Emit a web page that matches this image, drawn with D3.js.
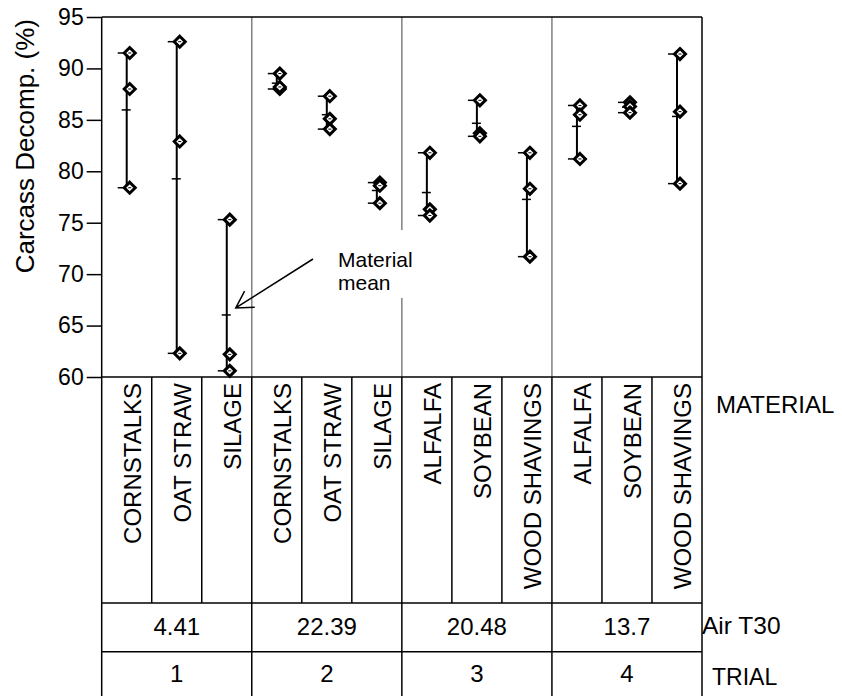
<!DOCTYPE html>
<html>
<head>
<meta charset="utf-8">
<script src="https://cdn.jsdelivr.net/npm/d3@7"></script>
<style>
body{margin:0;background:#fff;}
text{font-family:"Liberation Sans",Arial,sans-serif;fill:#000;}
</style>
</head>
<body>
<div class="main"></div>
<script>
// materials, one column each, grouped by trial
var materials=['CORNSTALKS','OAT STRAW','SILAGE','CORNSTALKS','OAT STRAW','SILAGE',
               'ALFALFA','SOYBEAN','WOOD SHAVINGS','ALFALFA','SOYBEAN','WOOD SHAVINGS'];
var trialOf=['1','1','1','2','2','2','3','3','3','4','4','4'];
var trials=['1','2','3','4'];
var airT30=['4.41','22.39','20.48','13.7'];

// carcass decomposition (%), three replicates per material
var rep1=[91.5,92.6,75.3,89.5,87.3,78.9,81.8,86.9,81.8,86.4,86.7,91.4];
var rep2=[88.0,82.9,62.2,88.0,85.1,78.6,76.3,83.7,78.3,85.5,86.3,85.8];
var rep3=[78.4,62.3,60.6,88.2,84.1,76.9,75.7,83.4,71.7,81.2,85.7,78.8];

var yTicks=[60,65,70,75,80,85,90,95];

var W=842,H=696;
var plot={left:101.7,right:702,top:17,bottom:377};
var rowMat=603, rowAir=651.7;
var fs=24;

var svg=d3.select('.main').append('svg')
    .attr('width',W)
    .attr('height',H);

var x=d3.scaleBand().domain(d3.range(materials.length)).range([plot.left,plot.right]);
var xt=d3.scaleBand().domain(trials).range([plot.left,plot.right]);
var y=d3.scaleLinear().domain([60,95]).range([plot.bottom,plot.top]);

var data=materials.map(function(m,i){
  var v=[rep1[i],rep2[i],rep3[i]];
  return {i:i,name:m,vals:v,min:d3.min(v),max:d3.max(v),mean:d3.mean(v)};
});
function cx(i){return x(i)+x.bandwidth()/2;}

// trial dividers inside the plot
svg.selectAll('.divider')
  .data(trials.slice(1))
  .enter().append('line')
  .attr('class','divider')
  .attr('x1',function(d){return xt(d);})
  .attr('x2',function(d){return xt(d);})
  .attr('y1',plot.top).attr('y2',plot.bottom)
  .style('stroke','#808080').style('stroke-width',1.5);

// annotation text box (covers the divider behind it)
svg.append('rect')
  .attr('x',330).attr('y',230).attr('width',86).attr('height',68)
  .style('fill','#fff');
svg.append('text').attr('x',338).attr('y',266.5).style('font-size','21px').text('Material');
svg.append('text').attr('x',338).attr('y',290).style('font-size','21px').text('mean');

// arrow to silage (trial 1) mean
var tipX=cx(2)+9, tipY=y(data[2].mean)-7;
var tailX=313, tailY=259;
var ang=Math.atan2(tailY-tipY,tailX-tipX), L=19, spread=Math.PI/6;
svg.append('path')
  .attr('d','M'+tailX+','+tailY+'L'+tipX+','+tipY+
     'M'+(tipX+L*Math.cos(ang-spread))+','+(tipY+L*Math.sin(ang-spread))+'L'+tipX+','+tipY+
     'L'+(tipX+L*Math.cos(ang+spread))+','+(tipY+L*Math.sin(ang+spread)))
  .style('fill','none').style('stroke','#000').style('stroke-width',1.5);

// table and frame lines
var lines=[];
lines.push([plot.left,plot.top,plot.right,plot.top]);
lines.push([plot.right,plot.top,plot.right,H]);
lines.push([plot.left,plot.top,plot.left,H]);
lines.push([plot.left,plot.bottom,plot.right,plot.bottom]);
lines.push([plot.left,rowMat,plot.right,rowMat]);
lines.push([plot.left,rowAir,plot.right,rowAir]);
trials.slice(1).forEach(function(t){lines.push([xt(t),plot.bottom,xt(t),H]);});
d3.range(1,materials.length).forEach(function(i){
  if(i%3!==0) lines.push([x(i),plot.bottom,x(i),rowMat]);
});
svg.selectAll('.grid')
  .data(lines)
  .enter().append('line')
  .attr('class','grid')
  .attr('x1',function(d){return d[0];}).attr('y1',function(d){return d[1];})
  .attr('x2',function(d){return d[2];}).attr('y2',function(d){return d[3];})
  .style('stroke','#000').style('stroke-width',1.5);

// y axis
var yAxis=d3.axisLeft(y).tickValues(yTicks).tickSize(15).tickSizeOuter(0).tickPadding(3);
var yAxisGroup=svg.append('g')
  .attr('transform','translate('+plot.left+',0)')
  .call(yAxis);
yAxisGroup.select('.domain').remove();
yAxisGroup.selectAll('line').style('stroke','#000').style('stroke-width',1.5);
yAxisGroup.selectAll('text')
  .style('font-size','23px')
  .style('font-family','"Liberation Sans",Arial,sans-serif')
  .style('fill','#000');

svg.append('text')
  .attr('transform','translate(34,19) rotate(-90)')
  .style('text-anchor','end')
  .style('font-size','26px')
  .text('Carcass Decomp. (%)');

// range lines, caps, means, diamonds
var g=svg.selectAll('.mat')
  .data(data)
  .enter().append('g')
  .attr('class','mat');

g.append('line')
  .attr('x1',function(d){return cx(d.i);}).attr('x2',function(d){return cx(d.i);})
  .attr('y1',function(d){return y(d.max);}).attr('y2',function(d){return y(d.min);})
  .style('stroke','#000').style('stroke-width',2);

g.selectAll('.cap')
  .data(function(d){return [{i:d.i,v:d.max},{i:d.i,v:d.min}];})
  .enter().append('line')
  .attr('class','cap')
  .attr('x1',function(d){return cx(d.i)-9;}).attr('x2',function(d){return cx(d.i);})
  .attr('y1',function(d){return y(d.v);}).attr('y2',function(d){return y(d.v);})
  .style('stroke','#000').style('stroke-width',1.5);

g.append('line')
  .attr('x1',function(d){return cx(d.i)-5;}).attr('x2',function(d){return cx(d.i)+4;})
  .attr('y1',function(d){return y(d.mean);}).attr('y2',function(d){return y(d.mean);})
  .style('stroke','#000').style('stroke-width',1.5);

var pts=g.selectAll('.pt')
  .data(function(d){return d.vals.map(function(v){return {i:d.i,v:v};});})
  .enter().append('g')
  .attr('class','pt')
  .attr('transform',function(d){return 'translate('+(cx(d.i)+3)+','+y(d.v)+')';});
pts.append('path')
  .attr('d','M0,-5.5L5.5,0L0,5.5L-5.5,0Z')
  .style('fill','#fff').style('stroke','#000').style('stroke-width',3);
pts.append('line')
  .attr('x1',-1.5).attr('x2',1.5).attr('y1',0).attr('y2',0)
  .style('stroke','#000').style('stroke-width',1);

// material labels
svg.selectAll('.matlabel')
  .data(data)
  .enter().append('text')
  .attr('class','matlabel')
  .attr('transform',function(d){return 'translate('+(cx(d.i)+14.5)+',383) rotate(-90)';})
  .style('text-anchor','end')
  .style('font-size',fs+'px')
  .text(function(d){return d.name;});

// Air T30 and trial rows
svg.selectAll('.air')
  .data(trials)
  .enter().append('text')
  .attr('x',function(d){return xt(d)+xt.bandwidth()/2;})
  .attr('y',635)
  .style('text-anchor','middle')
  .style('font-size',fs+'px')
  .text(function(d,i){return airT30[i];});

svg.selectAll('.trial')
  .data(trials)
  .enter().append('text')
  .attr('x',function(d){return xt(d)+xt.bandwidth()/2;})
  .attr('y',681.5)
  .style('text-anchor','middle')
  .style('font-size',fs+'px')
  .text(function(d){return d;});

// row headers
svg.append('text').attr('x',716).attr('y',413).style('font-size',fs+'px').text('MATERIAL');
svg.append('text').attr('x',702).attr('y',633.5).style('font-size','24.5px').text('Air T30');
svg.append('text').attr('x',712).attr('y',685).style('font-size','23px').text('TRIAL');
</script>
</body>
</html>
